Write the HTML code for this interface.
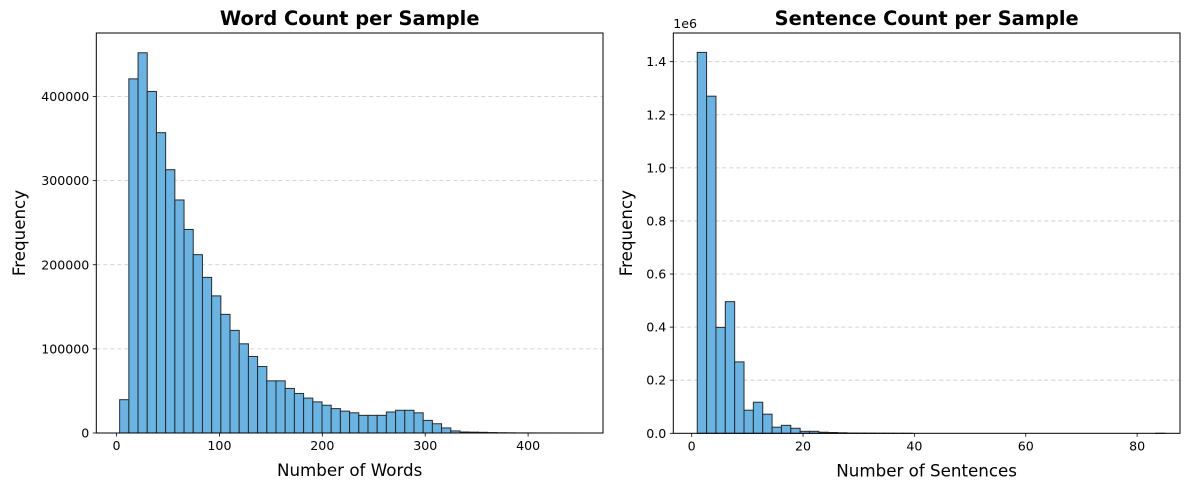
<!DOCTYPE html>
<html><head><meta charset="utf-8"><style>
body{margin:0;background:#fff;}
svg{display:block;font-family:"DejaVu Sans","Liberation Sans",sans-serif;}
</style></head><body>
<svg id="fig" width="1189" height="490" viewBox="0 0 1189 490" xmlns="http://www.w3.org/2000/svg"></svg>
<script>
const wordBinStart = 3, wordBinWidth = 8.94;
const wordCounts = [39600,421000,452000,406000,357000,313000,277000,242000,212000,185000,163000,141000,122000,106000,91000,79000,62000,62000,53000,47000,41500,37000,33000,29000,26000,24000,21000,21000,21000,25000,27000,27000,24000,15000,11000,6000,2500,1200,1000,800,500,300,200,100,100,50,50,30,20,10];
const wordXTicks = [0,100,200,300,400];
const wordYTicks = [0,100000,200000,300000,400000];
const sentBinStart = 1, sentBinWidth = 1.68;
const sentCounts = [1.435,1.27,0.399,0.496,0.269,0.087,0.117,0.072,0.023,0.030,0.019,0.0075,0.0075,0.004,0.003,0.002,0.001,0.0008,0.0005,0.0003,0.0002,0.0001,0.0001,0,0,0,0,0,0,0,0,0,0,0,0,0,0,0,0,0,0,0,0,0,0,0,0,0,0,0.00005];
const sentXTicks = [0,20,40,60,80];
const sentYTicks = [0,0.2,0.4,0.6,0.8,1.0,1.2,1.4];
const NS="http://www.w3.org/2000/svg";
const svg=document.getElementById('fig');
function mk(tag,attrs,parent){const e=document.createElementNS(NS,tag);for(const k in attrs)e.setAttribute(k,attrs[k]);(parent||svg).appendChild(e);return e;}
function chart(o){
  const g=mk('g',{});
  
  
  const sx=v=>o.x0+(v-o.xmin)/(o.xmax-o.xmin)*(o.x1-o.x0);
  const sy=v=>o.y1-(v-o.ymin)/(o.ymax-o.ymin)*(o.y1-o.y0);
  o.yTicks.forEach((t,i)=>{
    if(t>0){const l=mk('line',{x1:o.x0,x2:o.x1,y1:sy(t),y2:sy(t),stroke:'#c8c8c8','stroke-dasharray':'4,3','stroke-width':0.8},g);
    
    }
    mk('line',{x1:o.x0-3.5,x2:o.x0,y1:sy(t),y2:sy(t),stroke:'#000','stroke-width':0.8},g);
    const tx=mk('text',{x:o.x0-7,y:sy(t)+4.5,'text-anchor':'end','font-size':12.6},g);
    tx.textContent=o.yFmt(t);
    
    
  });
  o.counts.forEach((c,i)=>{
    if(c<=0)return;
    const a=o.binStart+i*o.binWidth;
    const r=mk('rect',{x:sx(a),y:sy(c),width:sx(a+o.binWidth)-sx(a),height:Math.max(0,sy(0)-sy(c)),fill:'#6ab4e3',stroke:'#2a2a2a','stroke-width':1},g);
    
    
  });
  o.xTicks.forEach(t=>{
    mk('line',{x1:sx(t),x2:sx(t),y1:o.y1,y2:o.y1+3.5,stroke:'#000','stroke-width':0.8},g);
    const tx=mk('text',{x:sx(t),y:o.y1+17,'text-anchor':'middle','font-size':12.6},g);
    tx.textContent=t;
    
    
  });
  const f=mk('rect',{x:o.x0,y:o.y0,width:o.x1-o.x0,height:o.y1-o.y0,fill:'none',stroke:'#000','stroke-width':1},g);
  
  
  const t=mk('text',{x:(o.x0+o.x1)/2,y:o.y0-8,'text-anchor':'middle','font-size':19.4,'font-weight':'bold'},g);
  t.textContent=o.title;
  
  
  const xl=mk('text',{x:(o.x0+o.x1)/2,y:o.y1+43,'text-anchor':'middle','font-size':16.7},g);
  xl.textContent=o.xlabel;
  
  
  const yl=mk('text',{x:0,y:0,'text-anchor':'middle','font-size':16.7,transform:`translate(${o.ylx},${(o.y0+o.y1)/2}) rotate(-90)`},g);
  yl.textContent='Frequency';
  
  
  if(o.offset){const ot=mk('text',{x:o.x0,y:o.y0-5,'font-size':12.6},g);
    ot.textContent=o.offset;
    
    }
}
chart({name:'word-count-chart',x0:96.3,x1:603,y0:33,y1:433,xmin:-19.7,xmax:472.8,ymin:0,ymax:475500,
  counts:wordCounts,binStart:wordBinStart,binWidth:wordBinWidth,xTicks:wordXTicks,yTicks:wordYTicks,
  yFmt:v=>String(v),title:'Word Count per Sample',xlabel:'Number of Words',ylx:25});
chart({name:'sentence-count-chart',x0:673.3,x1:1180,y0:33,y1:433.3,xmin:-3.3,xmax:87.7,ymin:0,ymax:1.508,
  counts:sentCounts,binStart:sentBinStart,binWidth:sentBinWidth,xTicks:sentXTicks,yTicks:sentYTicks,
  yFmt:v=>v.toFixed(1),title:'Sentence Count per Sample',xlabel:'Number of Sentences',ylx:632,offset:'1e6'});
</script>
</body></html>
